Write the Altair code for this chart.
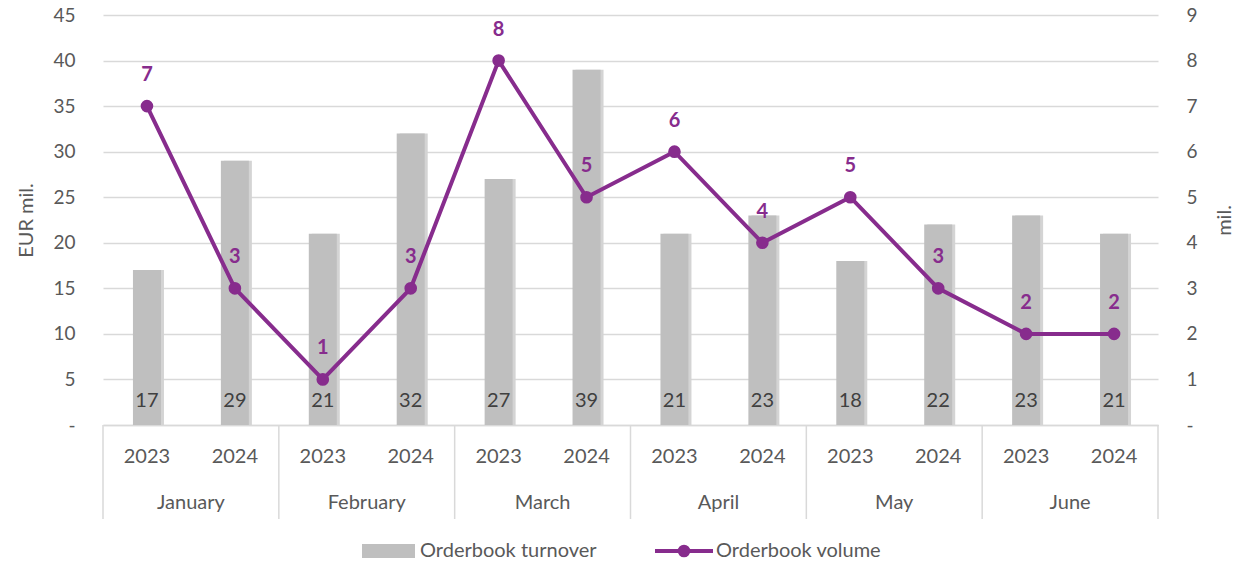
import altair as alt
import pandas as pd

months = ["January", "February", "March", "April", "May", "June"]
years = ["2023", "2024"] * 6
turnover = [17, 29, 21, 32, 27, 39, 21, 23, 18, 22, 23, 21]
volume = [7, 3, 1, 3, 8, 5, 6, 4, 5, 3, 2, 2]

PURPLE = "#872C8D"
GRAY_BAR = "#BFBFBF"
TXT = "#595959"
GRID = "#D9D9D9"
FONT = "Lato"
FS = 20
AFS = 19

df = pd.DataFrame({
    "pos": [i + 0.5 for i in range(12)],
    "year": years,
    "turnover": turnover,
    "volume": volume,
})
mdf = pd.DataFrame({"month": months, "pos": [2 * i + 1 for i in range(6)]})
sep = pd.DataFrame({"pos": [0, 2, 4, 6, 8, 10, 12]})
one = pd.DataFrame({"a": [0]})

xq = alt.X("pos:Q", scale=alt.Scale(domain=[0, 12], nice=False, zero=False, padding=0),
           axis=alt.Axis(labels=False, ticks=False, grid=False, domain=True,
                         domainColor=GRID, domainWidth=1.5, title=None))

left_axis = alt.Axis(values=list(range(0, 46, 5)),
                     labelExpr="datum.value == 0 ? '-' : datum.label",
                     labelBaseline="alphabetic", labelOffset=6,
                     title="EUR mil.", grid=True, gridColor=GRID, gridWidth=1.3,
                     ticks=False, domain=False, labelPadding=28, titlePadding=16)
y_left = alt.Y("turnover:Q", scale=alt.Scale(domain=[0, 45], nice=False), axis=left_axis)

right_axis = alt.Axis(orient="right", values=list(range(0, 10)),
                      labelExpr="datum.value == 0 ? '-' : datum.label",
                      labelBaseline="alphabetic", labelOffset=6,
                      title="mil.", grid=False, ticks=False, domain=False,
                      labelPadding=28, titlePadding=37, titleAngle=270)
y_right = alt.Y("volume:Q", scale=alt.Scale(domain=[0, 9], nice=False), axis=right_axis)

base = alt.Chart(df)

shadow = base.mark_bar(size=28, color="#D4D4D4", xOffset=3).encode(x=xq, y=y_left)
bars = base.mark_bar(size=28, color=GRAY_BAR).encode(x=xq, y=y_left)
bar_labels = base.mark_text(fontSize=FS, color="#404040", baseline="middle", font=FONT).encode(
    x=xq, y=alt.value(386), text="turnover:Q")
year_labels = base.mark_text(fontSize=FS, color=TXT, baseline="middle", font=FONT).encode(
    x=xq, y=alt.value(442), text="year:N")
month_labels = alt.Chart(mdf).mark_text(fontSize=FS, color=TXT, baseline="middle", font=FONT).encode(
    x=xq, y=alt.value(488), text="month:N")
seps = alt.Chart(sep).mark_rule(color=GRID, strokeWidth=1.5).encode(
    x=xq, y=alt.value(410), y2=alt.value(504))

leg_rect = alt.Chart(one).mark_rect(color=GRAY_BAR).encode(
    x=alt.value(259), x2=alt.value(312), y=alt.value(529), y2=alt.value(543))
leg_t1 = alt.Chart(one).mark_text(fontSize=FS, color=TXT, align="left", baseline="middle", font=FONT,
                                   text="Orderbook turnover").encode(x=alt.value(317), y=alt.value(536))
leg_line = alt.Chart(one).mark_rule(color=PURPLE, strokeWidth=4).encode(
    x=alt.value(552), x2=alt.value(610), y=alt.value(536))
leg_pt = alt.Chart(one).mark_point(color=PURPLE, filled=True, size=160, opacity=1).encode(
    x=alt.value(581), y=alt.value(536))
leg_t2 = alt.Chart(one).mark_text(fontSize=FS, color=TXT, align="left", baseline="middle", font=FONT,
                                   text="Orderbook volume").encode(x=alt.value(613), y=alt.value(536))

left = alt.layer(shadow, bars, bar_labels, year_labels, month_labels, seps,
                 leg_rect, leg_t1, leg_line, leg_pt, leg_t2)

line = base.mark_line(color=PURPLE, strokeWidth=4,
                      point=alt.OverlayMarkDef(size=160, filled=True, color=PURPLE, opacity=1)).encode(
    x=xq, y=y_right)
line_labels = base.mark_text(fontSize=FS, fontWeight="bold", color=PURPLE, dy=-31,
                             baseline="middle", font=FONT).encode(
    x=xq, y=y_right, text="volume:Q")
right = alt.layer(line, line_labels)

chart = alt.layer(left, right).resolve_scale(y="independent").properties(
    width=1055, height=410,
    padding={"left": 95, "top": 7, "right": 79, "bottom": 135},
    autosize=alt.AutoSizeParams(type="none"),
).configure_view(stroke=None).configure_axis(
    labelFontSize=AFS, labelColor=TXT, labelFont=FONT,
    titleFontSize=FS, titleColor=TXT, titleFont=FONT, titleFontWeight="normal",
)

chart.save("out.html", embed_options={"renderer": "svg", "actions": False})
